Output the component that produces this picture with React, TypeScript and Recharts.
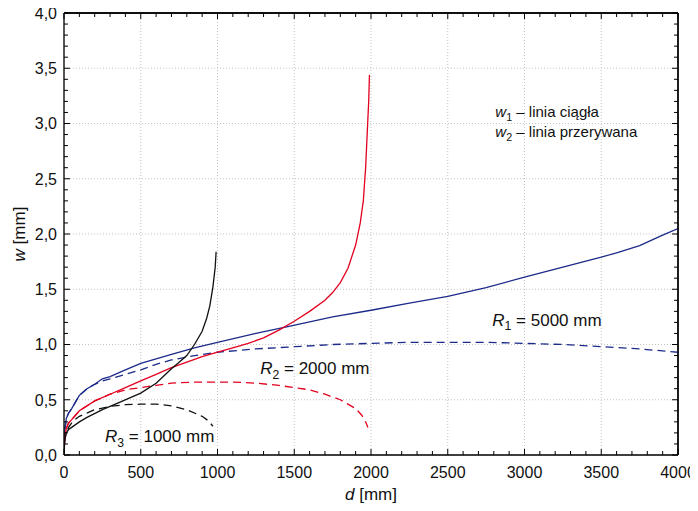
import React from 'react';
import { LineChart, Line, XAxis, YAxis, CartesianGrid, ReferenceDot, ReferenceLine } from 'recharts';

const FONT = "'Liberation Sans', Arial, Helvetica, sans-serif";

// axis ticks
const xMajor = [0, 500, 1000, 1500, 2000, 2500, 3000, 3500, 4000];
const yMajor = [0, 0.5, 1, 1.5, 2, 2.5, 3, 3.5, 4];
const xMinor = Array.from({ length: 41 }, (_, i) => i * 100);
const yMinor = Array.from({ length: 41 }, (_, i) => Math.round(i * 10) / 100);
const X_MAX = 4000;
const Y_MAX = 4;

// R1 = 5000 mm
const r1X1 = [0, 5, 15, 30, 50, 100, 150, 200, 250, 300, 400, 500, 600, 700, 850, 1000, 1250, 1450, 1750, 2000, 2250, 2500, 2750, 3000, 3250, 3500, 3600, 3750, 3900, 4000];
const r1W1 = [0, 0.22, 0.33, 0.38, 0.42, 0.54, 0.6, 0.64, 0.69, 0.71, 0.77, 0.83, 0.87, 0.91, 0.97, 1.02, 1.1, 1.16, 1.25, 1.31, 1.375, 1.435, 1.515, 1.61, 1.7, 1.79, 1.83, 1.895, 1.99, 2.05];
const r1X2 = [0, 5, 15, 30, 50, 100, 150, 200, 250, 300, 400, 500, 600, 700, 850, 1000, 1250, 1500, 1750, 2000, 2250, 2500, 2750, 3000, 3250, 3500, 3750, 4000];
const r1W2 = [0, 0.22, 0.33, 0.38, 0.42, 0.54, 0.6, 0.64, 0.67, 0.69, 0.73, 0.77, 0.82, 0.86, 0.9, 0.93, 0.96, 0.98, 1.0, 1.01, 1.02, 1.02, 1.02, 1.01, 1.0, 0.98, 0.96, 0.93];

// R2 = 2000 mm
const r2X1 = [0, 5, 15, 30, 50, 100, 200, 300, 400, 500, 600, 700, 800, 900, 1000, 1100, 1200, 1300, 1400, 1500, 1600, 1700, 1750, 1800, 1850, 1900, 1930, 1950, 1965, 1975, 1985, 1990];
const r2W1 = [0, 0.15, 0.24, 0.29, 0.32, 0.4, 0.49, 0.55, 0.61, 0.67, 0.73, 0.79, 0.84, 0.89, 0.93, 0.97, 1.01, 1.06, 1.13, 1.21, 1.3, 1.4, 1.47, 1.56, 1.69, 1.9, 2.1, 2.3, 2.6, 2.9, 3.2, 3.44];
const r2X2 = [0, 5, 15, 30, 50, 100, 200, 300, 400, 500, 600, 700, 850, 1000, 1100, 1250, 1400, 1500, 1600, 1700, 1800, 1850, 1900, 1940, 1965, 1980];
const r2W2 = [0, 0.15, 0.24, 0.29, 0.32, 0.4, 0.49, 0.55, 0.59, 0.61, 0.63, 0.65, 0.66, 0.66, 0.66, 0.65, 0.63, 0.61, 0.59, 0.55, 0.5, 0.46, 0.42, 0.36, 0.3, 0.25];

// R3 = 1000 mm
const r3X1 = [0, 5, 15, 30, 50, 100, 150, 250, 350, 500, 600, 700, 750, 800, 850, 900, 930, 950, 970, 985, 991];
const r3W1 = [0, 0.14, 0.2, 0.23, 0.25, 0.3, 0.34, 0.41, 0.47, 0.56, 0.65, 0.78, 0.84, 0.9, 1.0, 1.12, 1.24, 1.35, 1.52, 1.7, 1.84];
const r3X2 = [0, 5, 15, 30, 60, 100, 200, 300, 400, 500, 600, 700, 800, 900, 940, 970];
const r3W2 = [0, 0.14, 0.2, 0.25, 0.31, 0.35, 0.41, 0.44, 0.455, 0.46, 0.46, 0.445, 0.41, 0.35, 0.31, 0.26];

const toData = (xs: number[], ys: number[]) => xs.map((x, i) => ({ x, y: ys[i] }));

const BLUE = '#1c2a8a';
const RED = '#e3001f';
const BLACK = '#111111';

// layout
const CHART_W = 698;
const CHART_H = 511;
const MARGIN = { top: 13, right: 20, left: 0, bottom: 0 };
const YAXIS_W = 64;
const XAXIS_H = 56;
const PLOT_TOP = MARGIN.top;
const PLOT_RIGHT = CHART_W - MARGIN.right;
const PLOT_W = CHART_W - MARGIN.left - MARGIN.right - YAXIS_W;
const PLOT_H = CHART_H - MARGIN.top - MARGIN.bottom - XAXIS_H;

const isMajor = (v: number, step: number) => Math.abs(v / step - Math.round(v / step)) < 1e-6;

// bottom axis tick: inward tick at bottom, mirrored inward tick at the top frame, label
const BottomTick = (p: any) => {
  const { x, y, payload } = p;
  const v = payload.value;
  const major = isMajor(v, 500);
  const len = major ? 6 : 4;
  const w = typeof p.width === 'number' && p.width > 0 ? p.width : PLOT_W;
  return (
    <g>
      <line x1={x} x2={x} y1={y} y2={y - len} stroke="#000" strokeWidth={1} />
      <line x1={x} x2={x} y1={PLOT_TOP} y2={PLOT_TOP + len} stroke="#000" strokeWidth={1} />
      {v === 0 && <line x1={x} x2={x + w} y1={PLOT_TOP} y2={PLOT_TOP} stroke="#000" strokeWidth={1.3} />}
      {major && (
        <text x={x} y={y + 23} textAnchor="middle" fontFamily={FONT} fontSize={16} fill="#111">
          {v}
        </text>
      )}
    </g>
  );
};

// left axis tick: inward tick at left, mirrored inward tick at the right frame, label
const LeftTick = (p: any) => {
  const { x, y, payload } = p;
  const v = payload.value;
  const major = isMajor(v, 0.5);
  const len = major ? 6 : 4;
  const h = typeof p.height === 'number' && p.height > 0 ? p.height : PLOT_H;
  return (
    <g>
      <line x1={x} x2={x + len} y1={y} y2={y} stroke="#000" strokeWidth={1} />
      <line x1={PLOT_RIGHT} x2={PLOT_RIGHT - len} y1={y} y2={y} stroke="#000" strokeWidth={1} />
      {v === 0 && <line x1={PLOT_RIGHT} x2={PLOT_RIGHT} y1={y} y2={y - h} stroke="#000" strokeWidth={1.3} />}
      {major && (
        <text x={x - 7} y={y} dy="0.36em" textAnchor="end" fontFamily={FONT} fontSize={16} fill="#111">
          {v.toFixed(1).replace('.', ',')}
        </text>
      )}
    </g>
  );
};

const annot = (sym: string, sub: string, rest: string, size: number) => (p: any) => (
  <text x={p.cx} y={p.cy} fontFamily={FONT} fontSize={size} fill="#111">
    <tspan fontStyle="italic">{sym}</tspan>
    <tspan fontSize={size * 0.72} dy={size * 0.28}>{sub}</tspan>
    <tspan dy={-size * 0.28}>{rest}</tspan>
  </text>
);

const XLabel = (p: any) => {
  const vb = p.viewBox;
  return (
    <text x={vb.x + vb.width / 2} y={vb.y + 45} textAnchor="middle" fontFamily={FONT} fontSize={17} fill="#111">
      <tspan fontStyle="italic">d</tspan>
      <tspan> [mm]</tspan>
    </text>
  );
};

const YLabel = (p: any) => {
  const vb = p.viewBox;
  const cx = 19;
  const cy = vb.y + vb.height / 2;
  return (
    <text
      x={cx}
      y={cy}
      textAnchor="middle"
      dominantBaseline="central"
      transform={`rotate(-90, ${cx}, ${cy})`}
      fontFamily={FONT}
      fontSize={17}
      fill="#111"
    >
      <tspan fontStyle="italic">w</tspan>
      <tspan> [mm]</tspan>
    </text>
  );
};

export default function App() {
  return (
    <div style={{ margin: -8, width: CHART_W, height: CHART_H }}>
      <LineChart width={CHART_W} height={CHART_H} margin={MARGIN}>
        <CartesianGrid
          stroke="#c4c4c4"
          strokeDasharray="1 2"
          verticalValues={xMajor}
          horizontalValues={yMajor}
        />
        <XAxis
          dataKey="x"
          type="number"
          domain={[0, X_MAX]}
          ticks={xMinor}
          interval={0}
          allowDataOverflow
          height={XAXIS_H}
          tickSize={0}
          tickMargin={0}
          tickLine={false}
          axisLine={{ stroke: '#000', strokeWidth: 1.3 }}
          tick={<BottomTick />}
          label={<XLabel />}
        />
        <YAxis
          type="number"
          domain={[0, Y_MAX]}
          ticks={yMinor}
          interval={0}
          allowDataOverflow
          width={YAXIS_W}
          tickSize={0}
          tickMargin={0}
          tickLine={false}
          axisLine={{ stroke: '#000', strokeWidth: 1.3 }}
          tick={<LeftTick />}
          label={<YLabel />}
        />

        <ReferenceLine y={Y_MAX} stroke="#000" strokeWidth={1.3} />
        <ReferenceLine x={X_MAX} stroke="#000" strokeWidth={1.3} />

        <Line data={toData(r1X2, r1W2)} dataKey="y" stroke={BLUE} strokeWidth={1.3} strokeDasharray="8 5" dot={false} isAnimationActive={false} />
        <Line data={toData(r2X2, r2W2)} dataKey="y" stroke={RED} strokeWidth={1.3} strokeDasharray="8 5" dot={false} isAnimationActive={false} />
        <Line data={toData(r3X2, r3W2)} dataKey="y" stroke={BLACK} strokeWidth={1.3} strokeDasharray="8 5" dot={false} isAnimationActive={false} />
        <Line data={toData(r1X1, r1W1)} dataKey="y" stroke={BLUE} strokeWidth={1.3} dot={false} isAnimationActive={false} />
        <Line data={toData(r2X1, r2W1)} dataKey="y" stroke={RED} strokeWidth={1.3} dot={false} isAnimationActive={false} />
        <Line data={toData(r3X1, r3W1)} dataKey="y" stroke={BLACK} strokeWidth={1.3} dot={false} isAnimationActive={false} />

        <ReferenceDot x={2790} y={1.17} r={0} shape={annot('R', '1', ' = 5000 mm', 17)} />
        <ReferenceDot x={1278} y={0.73} r={0} shape={annot('R', '2', ' = 2000 mm', 17)} />
        <ReferenceDot x={267} y={0.12} r={0} shape={annot('R', '3', ' = 1000 mm', 17)} />
        <ReferenceDot x={2810} y={3.06} r={0} shape={annot('w', '1', ' \u2013 linia ciągła', 15)} />
        <ReferenceDot x={2810} y={2.88} r={0} shape={annot('w', '2', ' \u2013 linia przerywana', 15)} />
      </LineChart>
    </div>
  );
}
